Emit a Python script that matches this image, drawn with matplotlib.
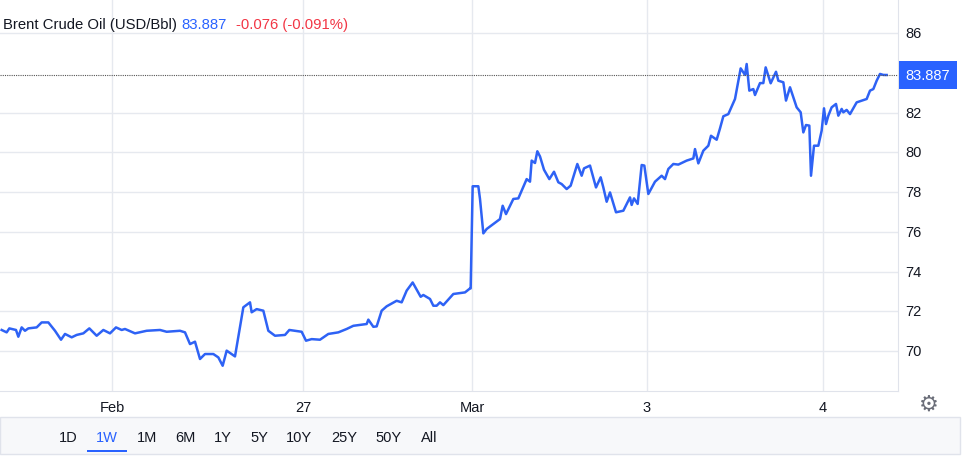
import numpy as np
import matplotlib
matplotlib.use("Agg")
import matplotlib.pyplot as plt
from matplotlib.patches import Rectangle

plt.rcParams['font.family'] = ['Liberation Sans', 'DejaVu Sans']

# time positions (chart units, left segment and right segment)
t_left = [5,20,28,48,55,65,75,85,110,125,145,165,183,195,215,230,250,268,290,310,330,348,365,375,405,440,480,500,540,555,570,585,600,615,640,655,668,680,705,730,750,755,770,790,805,825,855,868,905,918,935,960,985,1015,1040,1060,1100,1105,1120,1130,1145,1160,1190,1205,1220,1238,1262,1270,1290,1300,1310,1320,1330,1360,1395,1410,1412,1418,1435]
p_left = [71.06,70.94,71.14,71.06,70.72,71.19,71.02,71.14,71.19,71.44,71.44,71.02,70.57,70.86,70.69,70.81,70.89,71.14,70.77,71.06,70.89,71.19,71.06,71.11,70.89,71.02,71.06,70.97,71.02,70.94,70.35,70.47,69.60,69.85,69.85,69.68,69.26,70.02,69.73,72.20,72.45,71.95,72.11,72.03,71.02,70.77,70.81,71.06,70.97,70.52,70.60,70.57,70.86,70.94,71.11,71.27,71.36,71.58,71.22,71.24,72.03,72.25,72.53,72.45,73.04,73.45,72.73,72.82,72.62,72.28,72.28,72.45,72.31,72.87,72.95,73.15,73.15,78.29,78.29]
t_right = [0,10,20,40,60,68,78,100,115,125,140,150,155,165,172,180,192,208,222,235,245,260,272,292,305,312,330,348,362,370,380,390,408,430,450,455,462,473,485,493,505,525,545,555,565,580,595,620,640,645,655,670,685,693,710,720,730,745,765,782,795,800,808,820,825,840,850,857,872,888,895,910,918,930,950,962,970,978,988,993,1002,1015,1025,1032,1038,1045,1055,1068,1075,1085,1090,1100,1110,1130,1160,1170,1180,1190,1200,1210,1220]
p_right = [77.65,75.92,76.14,76.39,76.64,77.31,76.89,77.65,77.68,78.07,78.65,78.52,79.58,79.46,80.05,79.79,79.12,78.65,79.02,78.49,78.40,78.15,78.32,79.41,78.82,79.19,79.33,78.23,78.74,78.23,77.51,77.98,76.98,77.06,77.73,77.35,77.68,77.40,79.36,79.33,77.90,78.52,78.82,78.65,79.16,79.41,79.38,79.58,79.69,80.16,79.44,80.08,80.33,80.83,80.63,81.20,81.81,81.92,82.68,84.22,83.89,84.44,83.10,83.18,82.88,83.48,83.48,84.27,83.47,84.05,83.60,83.52,82.60,83.27,82.26,82.01,81.00,81.37,81.34,78.82,80.33,80.33,81.09,82.21,81.42,81.84,82.26,82.43,81.84,82.18,82.01,82.13,81.92,82.51,82.68,83.10,83.18,83.60,83.94,83.89,83.887]

last_price = 83.887
y_ticks = [70, 72, 74, 76, 78, 80, 82, 84, 86]
x_tick_pos = [112, 303, 472, 647, 823]
x_tick_labels = ['Feb', '27', 'Mar', '3', '4']
ranges = ['1D', '1W', '1M', '6M', '1Y', '5Y', '10Y', '25Y', '50Y', 'All']
range_x = [68, 107, 147, 185, 223, 259, 299, 344, 389, 429]

x = np.concatenate([np.array(t_left) / 3.0, 480 + np.array(t_right) / 3.0])
y = np.array(p_left + p_right)

W, H = 963, 460
fig = plt.figure(figsize=(W / 100, H / 100), dpi=100)
ax = fig.add_axes([0, 68 / H, 898 / W, 392 / H])
ax.set_xlim(0, 898)
ax.set_ylim(67.99, 87.71)
for s in ['top', 'left']:
    ax.spines[s].set_visible(False)
ax.spines['right'].set_color('#e0e3eb')
ax.spines['bottom'].set_color('#e0e3eb')
ax.tick_params(length=0, labelleft=False)
ax.set_yticks([v for v in y_ticks if v != 84])
ax.set_xticks(x_tick_pos)
ax.set_xticklabels([])
ax.grid(True, color='#e6e9ef', lw=1)
ax.plot(x, y, color='#2e62f5', lw=1.8, solid_joinstyle='round')
ax.axhline(last_price, color='#555555', lw=0.8, ls=(0, (1, 1)))

for v in y_ticks:
    if v == 84:
        continue
    ax.text(905, v, str(v), transform=ax.transData, va='center', ha='left',
            fontsize=10.5, color='#131722', clip_on=False)
for xp, lab in zip(x_tick_pos, x_tick_labels):
    ax.text(xp, 67.99 - 0.78, lab, ha='center', va='center', fontsize=10.5,
            color='#131722', clip_on=False)
ax.text(928, last_price, f'{last_price:.3f}', ha='center', va='center', fontsize=10.5,
        color='white', clip_on=False,
        bbox=dict(boxstyle='square,pad=0.45', fc='#2962ff', ec='none'))

# title
fs = 10.7
fig.text(3 / W, 1 - 25 / H, 'Brent Crude Oil (USD/Bbl)', fontsize=fs, color='#131722', va='center')
fig.text(181 / W, 1 - 25 / H, '83.887', fontsize=fs, color='#2962ff', va='center')
fig.text(236 / W, 1 - 25 / H, '-0.076 (-0.091%)', fontsize=fs, color='#f23645', va='center')

# bottom band
fig.patches.append(Rectangle((0, (460 - 455) / H), 960 / W, 37 / H, transform=fig.transFigure,
                             fc='#f7f8fa', ec='#e0e3eb', lw=1))
for xr, lab in zip(range_x, ranges):
    fig.text(xr / W, 1 - 438 / H, lab, ha='center', va='center', fontsize=10.5,
             color='#2962ff' if lab == '1W' else '#131722')
fig.patches.append(Rectangle((87 / W, 1 - 453 / H), 40 / W, 2 / H, transform=fig.transFigure,
                             fc='#2962ff', ec='none'))
fig.text(929 / W, 1 - 405 / H, '\u2699', ha='center', va='center', fontsize=16, color='#6a6d78',
         family=['DejaVu Sans'])

fig.savefig('out.png', dpi=100, facecolor='white')
